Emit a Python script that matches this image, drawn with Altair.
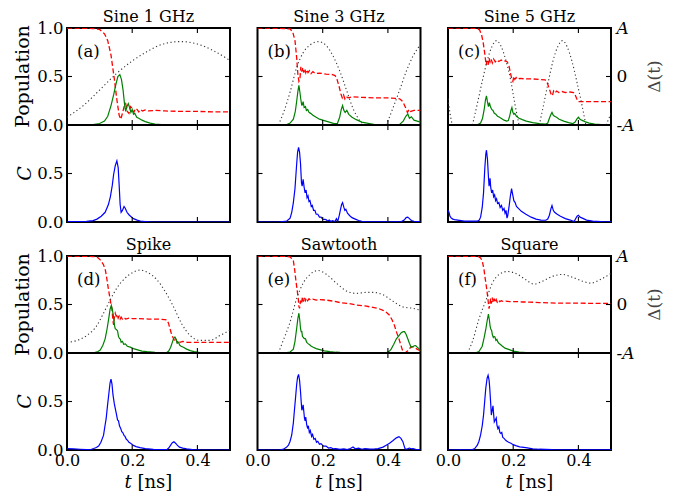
import altair as alt
import pandas as pd

FONT = "DejaVu Serif, Liberation Serif, Noto Serif, Times New Roman, serif"
W, H = 163, 194

TITLES = ["Sine 1 GHz", "Sine 3 GHz", "Sine 5 GHz", "Spike", "Sawtooth", "Square"]
LABELS = ["(a)", "(b)", "(c)", "(d)", "(e)", "(f)"]
X_LABEL_VALUES = [0.0, 0.2, 0.4]
X_TICKS = [0.2, 0.4]
POP_TICKS = [0.5]
C_TICKS = [0.5]
POP_LABEL_VALUES = [0.0, 0.5, 1.0]
C_LABEL_VALUES = [0.0, 0.5]
DELTA_LABEL_VALUES = [-1, 0, 1]

# ---------------- panel (a) Sine 1 GHz ----------------
A_RED = [(0, 1.0), (0.08, 0.995), (0.10, 0.985), (0.115, 0.94), (0.125, 0.87), (0.135, 0.72), (0.145, 0.48),
         (0.153, 0.26), (0.160, 0.10), (0.165, 0.06), (0.170, 0.12), (0.176, 0.20), (0.180, 0.22), (0.185, 0.14),
         (0.190, 0.12), (0.195, 0.19), (0.200, 0.17), (0.205, 0.13), (0.210, 0.17), (0.215, 0.16), (0.220, 0.135),
         (0.225, 0.16), (0.232, 0.145), (0.24, 0.155), (0.25, 0.145), (0.27, 0.15), (0.30, 0.145), (0.35, 0.14),
         (0.40, 0.14), (0.45, 0.135), (0.50, 0.135)]
A_GREEN = [(0, 0), (0.08, 0.003), (0.10, 0.015), (0.115, 0.04), (0.125, 0.09), (0.135, 0.20), (0.143, 0.31),
           (0.150, 0.42), (0.156, 0.50), (0.162, 0.52), (0.167, 0.47), (0.172, 0.36), (0.177, 0.20), (0.180, 0.14),
           (0.184, 0.19), (0.188, 0.22), (0.192, 0.18), (0.196, 0.13), (0.200, 0.16), (0.204, 0.11), (0.208, 0.12),
           (0.214, 0.08), (0.220, 0.07), (0.23, 0.05), (0.24, 0.035), (0.255, 0.02), (0.27, 0.01), (0.29, 0.003),
           (0.32, 0), (0.5, 0)]
A_DELTA = [[(0, -0.84), (0.05, -0.60), (0.10, -0.28), (0.15, 0.05), (0.20, 0.32), (0.25, 0.53), (0.30, 0.68),
            (0.35, 0.72), (0.40, 0.67), (0.45, 0.53), (0.50, 0.33)]]
A_BLUE = [(0, 0.005), (0.04, 0.004), (0.06, 0.006), (0.08, 0.015), (0.092, 0.03), (0.105, 0.06), (0.117, 0.10),
          (0.127, 0.18), (0.133, 0.26), (0.139, 0.38), (0.143, 0.49), (0.148, 0.58), (0.153, 0.63), (0.157, 0.56),
          (0.160, 0.38), (0.163, 0.18), (0.166, 0.10), (0.170, 0.12), (0.175, 0.16), (0.179, 0.14), (0.184, 0.10),
          (0.190, 0.075), (0.195, 0.06), (0.204, 0.035), (0.215, 0.02), (0.225, 0.01), (0.24, 0.004), (0.26, 0),
          (0.5, 0)]

# ---------------- panel (b) Sine 3 GHz ----------------
B_RED = [(0, 1.0), (0.08, 0.995), (0.10, 0.99), (0.108, 0.96), (0.115, 0.87), (0.120, 0.70), (0.124, 0.52),
         (0.127, 0.45), (0.130, 0.47), (0.133, 0.60), (0.136, 0.55), (0.139, 0.59), (0.142, 0.54), (0.145, 0.58),
         (0.148, 0.54), (0.151, 0.57), (0.155, 0.54), (0.159, 0.56), (0.164, 0.53), (0.170, 0.55), (0.178, 0.53),
         (0.19, 0.535), (0.21, 0.525), (0.23, 0.52), (0.238, 0.51), (0.244, 0.47), (0.250, 0.40), (0.256, 0.32),
         (0.260, 0.28), (0.264, 0.31), (0.268, 0.27), (0.272, 0.295), (0.278, 0.28), (0.29, 0.29), (0.32, 0.285),
         (0.36, 0.28), (0.40, 0.28), (0.425, 0.275), (0.436, 0.27), (0.446, 0.24), (0.454, 0.18), (0.460, 0.13),
         (0.465, 0.16), (0.470, 0.14), (0.48, 0.15), (0.50, 0.15)]
B_GREEN = [(0, 0), (0.09, 0.005), (0.10, 0.02), (0.11, 0.06), (0.116, 0.14), (0.120, 0.24), (0.124, 0.35),
           (0.127, 0.41), (0.130, 0.34), (0.133, 0.26), (0.136, 0.20), (0.140, 0.24), (0.143, 0.18), (0.147, 0.19),
           (0.150, 0.15), (0.154, 0.16), (0.158, 0.13), (0.163, 0.12), (0.170, 0.10), (0.18, 0.08), (0.19, 0.06),
           (0.205, 0.045), (0.22, 0.03), (0.235, 0.015), (0.245, 0.015), (0.252, 0.08), (0.257, 0.16), (0.261, 0.20),
           (0.265, 0.15), (0.269, 0.13), (0.274, 0.15), (0.280, 0.11), (0.29, 0.08), (0.303, 0.055), (0.32, 0.03),
           (0.335, 0.02), (0.36, 0.005), (0.40, 0), (0.436, 0.005), (0.447, 0.04), (0.455, 0.09), (0.461, 0.115),
           (0.466, 0.07), (0.472, 0.085), (0.48, 0.05), (0.49, 0.04), (0.50, 0.03)]
B_DELTA = [[(0.064, -1), (0.08, -0.74), (0.10, -0.32), (0.12, 0.18), (0.14, 0.49), (0.161, 0.65), (0.188, 0.72),
            (0.212, 0.63), (0.232, 0.42), (0.253, 0.10), (0.273, -0.28), (0.293, -0.66), (0.314, -0.91), (0.33, -1)],
           [(0.395, -1), (0.415, -0.66), (0.436, -0.28), (0.456, 0.10), (0.477, 0.42), (0.50, 0.66)]]
B_BLUE = [(0, 0), (0.07, 0.002), (0.09, 0.01), (0.100, 0.04), (0.105, 0.10), (0.110, 0.20), (0.115, 0.345),
          (0.120, 0.59), (0.123, 0.72), (0.126, 0.77), (0.129, 0.72), (0.132, 0.60), (0.135, 0.40), (0.137, 0.37),
          (0.140, 0.44), (0.143, 0.36), (0.146, 0.30), (0.149, 0.33), (0.152, 0.25), (0.155, 0.27), (0.158, 0.21),
          (0.161, 0.22), (0.165, 0.16), (0.168, 0.17), (0.172, 0.12), (0.176, 0.12), (0.180, 0.08), (0.185, 0.08),
          (0.19, 0.05), (0.195, 0.05), (0.20, 0.03), (0.21, 0.025), (0.215, 0.01), (0.22, 0.02), (0.225, 0.005),
          (0.23, 0.015), (0.238, 0.005), (0.242, 0.035), (0.246, 0.005), (0.251, 0.07), (0.255, 0.135),
          (0.258, 0.18), (0.261, 0.20), (0.265, 0.15), (0.268, 0.12), (0.271, 0.13), (0.276, 0.09), (0.283, 0.065),
          (0.29, 0.045), (0.30, 0.03), (0.31, 0.015), (0.32, 0.008), (0.334, 0.002), (0.44, 0.002), (0.450, 0.02),
          (0.456, 0.045), (0.461, 0.05), (0.466, 0.035), (0.472, 0.015), (0.48, 0.008), (0.50, 0.003)]

# ---------------- panel (c) Sine 5 GHz ----------------
C_RED = [(0, 1.0), (0.09, 0.995), (0.097, 0.98), (0.103, 0.93), (0.108, 0.85), (0.113, 0.73), (0.117, 0.62),
         (0.120, 0.66), (0.123, 0.62), (0.126, 0.69), (0.129, 0.65), (0.132, 0.68), (0.136, 0.64), (0.140, 0.68),
         (0.145, 0.65), (0.150, 0.67), (0.156, 0.655), (0.163, 0.67), (0.170, 0.655), (0.176, 0.66), (0.182, 0.65),
         (0.187, 0.61), (0.192, 0.53), (0.196, 0.47), (0.199, 0.45), (0.202, 0.50), (0.205, 0.47), (0.209, 0.49),
         (0.214, 0.47), (0.22, 0.48), (0.24, 0.475), (0.26, 0.475), (0.28, 0.47), (0.298, 0.465), (0.305, 0.43),
         (0.311, 0.37), (0.316, 0.32), (0.320, 0.30), (0.324, 0.35), (0.328, 0.33), (0.333, 0.35), (0.34, 0.335),
         (0.35, 0.345), (0.36, 0.335), (0.375, 0.34), (0.385, 0.335), (0.390, 0.31), (0.395, 0.27), (0.400, 0.24),
         (0.41, 0.24), (0.44, 0.24), (0.50, 0.24)]
C_GREEN = [(0, 0), (0.09, 0.003), (0.100, 0.02), (0.106, 0.07), (0.111, 0.16), (0.115, 0.26), (0.118, 0.30),
           (0.121, 0.24), (0.124, 0.19), (0.127, 0.23), (0.130, 0.19), (0.134, 0.16), (0.138, 0.15), (0.142, 0.12),
           (0.147, 0.11), (0.152, 0.09), (0.158, 0.08), (0.165, 0.065), (0.172, 0.05), (0.180, 0.04), (0.185, 0.045),
           (0.189, 0.09), (0.193, 0.15), (0.196, 0.18), (0.199, 0.13), (0.202, 0.11), (0.205, 0.12), (0.210, 0.09),
           (0.218, 0.07), (0.228, 0.055), (0.24, 0.04), (0.26, 0.025), (0.28, 0.015), (0.30, 0.01), (0.306, 0.02),
           (0.311, 0.07), (0.316, 0.11), (0.319, 0.13), (0.323, 0.10), (0.327, 0.09), (0.333, 0.08), (0.341, 0.06),
           (0.355, 0.04), (0.37, 0.025), (0.383, 0.015), (0.390, 0.03), (0.395, 0.06), (0.400, 0.08), (0.405, 0.06),
           (0.41, 0.05), (0.42, 0.035), (0.433, 0.02), (0.45, 0.01), (0.47, 0.005), (0.50, 0.003)]
C_DELTA = [[(0, -0.46), (0.006, -0.75), (0.013, -1)],
           [(0.075, -1), (0.09, -0.56), (0.105, -0.10), (0.12, 0.32), (0.135, 0.62), (0.149, 0.74), (0.163, 0.62),
            (0.178, 0.32), (0.193, -0.10), (0.205, -0.56), (0.218, -1)],
           [(0.28, -1), (0.294, -0.56), (0.308, -0.10), (0.322, 0.32), (0.337, 0.62), (0.351, 0.74), (0.365, 0.62),
            (0.38, 0.32), (0.395, -0.10), (0.41, -0.56), (0.423, -1)],
           [(0.485, -1), (0.50, -0.76)]]
C_BLUE = [(0, 0.12), (0.003, 0.10), (0.006, 0.06), (0.01, 0.04), (0.015, 0.03), (0.02, 0.025), (0.03, 0.02),
          (0.05, 0.01), (0.07, 0.008), (0.09, 0.008), (0.096, 0.02), (0.100, 0.05), (0.105, 0.15), (0.109, 0.30),
          (0.113, 0.56), (0.116, 0.70), (0.118, 0.74), (0.121, 0.65), (0.124, 0.47), (0.126, 0.37), (0.129, 0.45),
          (0.131, 0.36), (0.134, 0.30), (0.137, 0.33), (0.140, 0.26), (0.143, 0.28), (0.146, 0.22), (0.149, 0.24),
          (0.152, 0.19), (0.156, 0.20), (0.160, 0.15), (0.164, 0.17), (0.168, 0.12), (0.172, 0.14), (0.175, 0.09),
          (0.178, 0.12), (0.181, 0.04), (0.183, 0.06), (0.187, 0.15), (0.191, 0.26), (0.195, 0.345), (0.198, 0.29),
          (0.202, 0.22), (0.206, 0.20), (0.210, 0.16), (0.216, 0.14), (0.225, 0.11), (0.239, 0.08), (0.255, 0.05),
          (0.27, 0.03), (0.285, 0.02), (0.30, 0.018), (0.306, 0.03), (0.311, 0.07), (0.316, 0.14), (0.319, 0.17),
          (0.323, 0.12), (0.327, 0.10), (0.335, 0.08), (0.345, 0.06), (0.36, 0.035), (0.375, 0.02), (0.387, 0.005),
          (0.391, 0.03), (0.396, 0.06), (0.400, 0.07), (0.405, 0.05), (0.412, 0.04), (0.425, 0.02), (0.444, 0.01),
          (0.47, 0.004), (0.50, 0.002)]

# ---------------- panel (d) Spike ----------------
D_RED = [(0, 1.0), (0.08, 0.995), (0.092, 0.99), (0.102, 0.96), (0.112, 0.91), (0.118, 0.85), (0.122, 0.77),
         (0.126, 0.68), (0.130, 0.60), (0.134, 0.52), (0.138, 0.45), (0.141, 0.33), (0.143, 0.29), (0.145, 0.36),
         (0.148, 0.41), (0.151, 0.38), (0.154, 0.40), (0.157, 0.36), (0.160, 0.38), (0.163, 0.35), (0.166, 0.37),
         (0.170, 0.35), (0.175, 0.365), (0.18, 0.35), (0.19, 0.36), (0.20, 0.355), (0.22, 0.355), (0.25, 0.35),
         (0.28, 0.35), (0.30, 0.345), (0.306, 0.34), (0.311, 0.31), (0.316, 0.25), (0.321, 0.19), (0.327, 0.146),
         (0.331, 0.12), (0.334, 0.14), (0.338, 0.11), (0.342, 0.13), (0.347, 0.11), (0.355, 0.12), (0.37, 0.11),
         (0.40, 0.11), (0.45, 0.11), (0.50, 0.11)]
D_GREEN = [(0, 0), (0.082, 0.003), (0.095, 0.015), (0.102, 0.03), (0.110, 0.08), (0.117, 0.146), (0.123, 0.25),
           (0.128, 0.355), (0.132, 0.45), (0.136, 0.49), (0.139, 0.45), (0.143, 0.37), (0.146, 0.28), (0.148, 0.25),
           (0.152, 0.24), (0.155, 0.23), (0.158, 0.17), (0.161, 0.15), (0.164, 0.14), (0.166, 0.11), (0.170, 0.12),
           (0.174, 0.09), (0.179, 0.094), (0.185, 0.07), (0.194, 0.06), (0.204, 0.045), (0.214, 0.035), (0.23, 0.02),
           (0.245, 0.014), (0.27, 0.006), (0.306, 0.005), (0.312, 0.02), (0.318, 0.06), (0.323, 0.11), (0.327, 0.15),
           (0.331, 0.164), (0.335, 0.14), (0.338, 0.10), (0.342, 0.11), (0.346, 0.08), (0.350, 0.07), (0.357, 0.06),
           (0.367, 0.04), (0.378, 0.024), (0.39, 0.015), (0.408, 0.005), (0.45, 0.002), (0.50, 0)]
D_DELTA = [[(0, -0.78), (0.031, -0.74), (0.061, -0.64), (0.092, -0.43), (0.112, -0.18), (0.133, 0.10), (0.153, 0.34),
            (0.173, 0.51), (0.199, 0.65), (0.224, 0.71), (0.25, 0.65), (0.276, 0.51), (0.301, 0.27), (0.327, -0.05),
            (0.352, -0.40), (0.378, -0.64), (0.408, -0.74), (0.439, -0.74), (0.469, -0.64), (0.50, -0.53)]]
D_BLUE = [(0, 0.015), (0.02, 0.012), (0.04, 0.008), (0.061, 0.005), (0.075, 0.008), (0.082, 0.015), (0.09, 0.025),
          (0.097, 0.04), (0.104, 0.08), (0.112, 0.15), (0.117, 0.26), (0.120, 0.32), (0.124, 0.45), (0.128, 0.57),
          (0.132, 0.69), (0.135, 0.73), (0.138, 0.68), (0.141, 0.57), (0.145, 0.48), (0.148, 0.43), (0.151, 0.38),
          (0.155, 0.31), (0.158, 0.30), (0.161, 0.25), (0.165, 0.22), (0.168, 0.19), (0.171, 0.18), (0.175, 0.15),
          (0.178, 0.14), (0.182, 0.11), (0.186, 0.10), (0.190, 0.08), (0.195, 0.07), (0.199, 0.06), (0.205, 0.045),
          (0.212, 0.035), (0.224, 0.025), (0.24, 0.015), (0.265, 0.006), (0.29, 0.003), (0.306, 0.004),
          (0.312, 0.02), (0.318, 0.05), (0.323, 0.075), (0.328, 0.085), (0.333, 0.07), (0.338, 0.05), (0.345, 0.03),
          (0.355, 0.02), (0.367, 0.012), (0.385, 0.005), (0.408, 0.002), (0.50, 0)]

# ---------------- panel (e) Sawtooth ----------------
E_RED = [(0, 1.0), (0.09, 0.995), (0.10, 0.99), (0.106, 0.97), (0.110, 0.95), (0.114, 0.86), (0.118, 0.74),
         (0.122, 0.64), (0.125, 0.56), (0.127, 0.48), (0.129, 0.46), (0.132, 0.54), (0.135, 0.51), (0.138, 0.58),
         (0.141, 0.53), (0.144, 0.57), (0.147, 0.54), (0.150, 0.565), (0.154, 0.54), (0.158, 0.56), (0.163, 0.545),
         (0.17, 0.555), (0.18, 0.545), (0.19, 0.55), (0.212, 0.545), (0.232, 0.535), (0.253, 0.52), (0.28, 0.51),
         (0.303, 0.495), (0.33, 0.485), (0.354, 0.47), (0.37, 0.46), (0.385, 0.44), (0.395, 0.42), (0.405, 0.39),
         (0.413, 0.34), (0.420, 0.285), (0.427, 0.21), (0.434, 0.146), (0.440, 0.08), (0.444, 0.035), (0.448, 0.01),
         (0.451, 0.0), (0.456, 0.01), (0.461, 0.024), (0.466, 0.045), (0.471, 0.06), (0.477, 0.065), (0.482, 0.06),
         (0.487, 0.045), (0.492, 0.035), (0.50, 0.024)]
E_GREEN = [(0, 0), (0.09, 0.003), (0.10, 0.01), (0.11, 0.04), (0.115, 0.12), (0.120, 0.25), (0.124, 0.36),
           (0.127, 0.41), (0.130, 0.33), (0.132, 0.25), (0.134, 0.22), (0.136, 0.22), (0.138, 0.17), (0.140, 0.164),
           (0.143, 0.15), (0.147, 0.146), (0.151, 0.11), (0.156, 0.094), (0.160, 0.085), (0.165, 0.07), (0.171, 0.06),
           (0.18, 0.045), (0.191, 0.035), (0.205, 0.022), (0.222, 0.014), (0.24, 0.008), (0.253, 0.006), (0.30, 0.003),
           (0.395, 0.003), (0.405, 0.02), (0.41, 0.04), (0.418, 0.09), (0.426, 0.146), (0.434, 0.18), (0.441, 0.21),
           (0.447, 0.22), (0.451, 0.22), (0.456, 0.19), (0.461, 0.146), (0.466, 0.10), (0.471, 0.06), (0.476, 0.065),
           (0.481, 0.075), (0.485, 0.077), (0.49, 0.06), (0.495, 0.045), (0.50, 0.024)]
E_DELTA = [[(0.064, -1), (0.079, -0.74), (0.10, -0.36), (0.12, 0.12), (0.14, 0.44), (0.161, 0.62), (0.186, 0.70),
            (0.212, 0.62), (0.242, 0.44), (0.273, 0.28), (0.303, 0.23), (0.334, 0.25), (0.354, 0.25), (0.385, 0.20),
            (0.415, 0.07), (0.446, -0.05), (0.477, -0.08), (0.50, -0.12)]]
E_BLUE = [(0, 0), (0.07, 0.002), (0.08, 0.01), (0.088, 0.025), (0.095, 0.05), (0.100, 0.09), (0.105, 0.155),
          (0.110, 0.28), (0.113, 0.40), (0.117, 0.55), (0.120, 0.67), (0.123, 0.75), (0.126, 0.78), (0.129, 0.72),
          (0.132, 0.60), (0.134, 0.50), (0.136, 0.41), (0.138, 0.43), (0.140, 0.465), (0.142, 0.40), (0.144, 0.33),
          (0.146, 0.30), (0.148, 0.34), (0.151, 0.26), (0.154, 0.22), (0.156, 0.25), (0.159, 0.18), (0.162, 0.20),
          (0.166, 0.14), (0.169, 0.16), (0.173, 0.11), (0.177, 0.12), (0.181, 0.08), (0.185, 0.09), (0.19, 0.06),
          (0.195, 0.065), (0.202, 0.04), (0.21, 0.04), (0.218, 0.02), (0.225, 0.025), (0.232, 0.012), (0.24, 0.015),
          (0.253, 0.006), (0.265, 0.012), (0.275, 0.004), (0.285, 0.015), (0.293, 0.03), (0.30, 0.012), (0.31, 0.02),
          (0.32, 0.008), (0.33, 0.015), (0.345, 0.01), (0.36, 0.012), (0.37, 0.015), (0.385, 0.03), (0.395, 0.05),
          (0.405, 0.07), (0.415, 0.095), (0.426, 0.125), (0.434, 0.138), (0.440, 0.12), (0.446, 0.086), (0.450, 0.04),
          (0.453, 0.01), (0.46, 0.012), (0.466, 0.02), (0.472, 0.012), (0.477, 0.015), (0.485, 0.008), (0.50, 0.003)]

# ---------------- panel (f) Square ----------------
F_RED = [(0, 1.0), (0.09, 0.995), (0.095, 0.99), (0.100, 0.98), (0.105, 0.95), (0.110, 0.87), (0.114, 0.77),
         (0.118, 0.68), (0.121, 0.60), (0.124, 0.51), (0.126, 0.456), (0.128, 0.50), (0.131, 0.56), (0.133, 0.51),
         (0.136, 0.57), (0.139, 0.52), (0.142, 0.56), (0.145, 0.52), (0.148, 0.55), (0.151, 0.525), (0.155, 0.545),
         (0.159, 0.53), (0.164, 0.54), (0.17, 0.53), (0.177, 0.535), (0.19, 0.53), (0.21, 0.53), (0.228, 0.526),
         (0.25, 0.525), (0.28, 0.52), (0.33, 0.515), (0.382, 0.515), (0.44, 0.512), (0.50, 0.51)]
F_GREEN = [(0, 0), (0.085, 0.003), (0.095, 0.015), (0.105, 0.07), (0.111, 0.16), (0.116, 0.245), (0.120, 0.33),
           (0.124, 0.40), (0.127, 0.34), (0.129, 0.28), (0.131, 0.25), (0.134, 0.23), (0.136, 0.19), (0.139, 0.16),
           (0.141, 0.17), (0.144, 0.165), (0.147, 0.13), (0.150, 0.14), (0.152, 0.12), (0.156, 0.10), (0.160, 0.09),
           (0.167, 0.07), (0.175, 0.05), (0.188, 0.035), (0.20, 0.02), (0.218, 0.01), (0.24, 0.005), (0.28, 0.002),
           (0.50, 0)]
F_DELTA = [[(0.06, -1), (0.075, -0.76), (0.095, -0.30), (0.116, 0.08), (0.136, 0.44), (0.157, 0.62), (0.182, 0.68),
            (0.208, 0.64), (0.239, 0.51), (0.264, 0.42), (0.29, 0.48), (0.32, 0.58), (0.351, 0.62), (0.382, 0.56),
            (0.413, 0.48), (0.438, 0.44), (0.469, 0.52), (0.50, 0.64)]]
F_BLUE = [(0, 0), (0.075, 0.005), (0.082, 0.015), (0.09, 0.05), (0.095, 0.09), (0.100, 0.155), (0.105, 0.25),
          (0.109, 0.36), (0.113, 0.52), (0.116, 0.64), (0.120, 0.74), (0.123, 0.77), (0.126, 0.72), (0.128, 0.64),
          (0.131, 0.48), (0.133, 0.36), (0.136, 0.42), (0.138, 0.455), (0.140, 0.37), (0.142, 0.29), (0.145, 0.31),
          (0.148, 0.33), (0.150, 0.26), (0.153, 0.22), (0.156, 0.24), (0.159, 0.18), (0.162, 0.17), (0.165, 0.18),
          (0.168, 0.13), (0.172, 0.12), (0.177, 0.10), (0.181, 0.09), (0.186, 0.08), (0.193, 0.07), (0.2, 0.055),
          (0.208, 0.045), (0.22, 0.032), (0.239, 0.024), (0.26, 0.012), (0.28, 0.008), (0.32, 0.004), (0.50, 0.002)]

RED = [A_RED, B_RED, C_RED, D_RED, E_RED, F_RED]
GREEN = [A_GREEN, B_GREEN, C_GREEN, D_GREEN, E_GREEN, F_GREEN]
DELTA = [A_DELTA, B_DELTA, C_DELTA, D_DELTA, E_DELTA, F_DELTA]
BLUE = [A_BLUE, B_BLUE, C_BLUE, D_BLUE, E_BLUE, F_BLUE]


def pts(pairs):
    return pd.DataFrame(pairs, columns=["t", "v"])


def segs(seglist):
    rows = [(t, v, k) for k, s in enumerate(seglist) for t, v in s]
    return pd.DataFrame(rows, columns=["t", "v", "seg"])


ONE = alt.Data(values=[{"k": 0}])


def text(txt, x, y, size, **kw):
    opts = dict(text=txt, font=FONT, fontSize=size, color="black", align="center", baseline="middle")
    opts.update(kw)
    return alt.Chart(ONE).mark_text(**opts).encode(x=alt.value(x), y=alt.value(y))


def panel(i):
    bottom = i >= 3
    first = i % 3 == 0
    last = i % 3 == 2
    xs = alt.Scale(domain=[0, 0.5], nice=False, zero=False)
    ps = alt.Scale(domain=[-1, 1], nice=False, zero=False)   # population in upper half
    cs = alt.Scale(domain=[0, 2], nice=False, zero=False)    # C in lower half
    ds = alt.Scale(domain=[-3, 1], nice=False, zero=False)   # Delta/A in upper half

    xax = alt.Axis(values=X_LABEL_VALUES, format=".1f", labels=bottom, ticks=False, domain=False, grid=False,
                   title="", labelFlush=False, labelPadding=2, labelFontSize=16, labelFont=FONT,
                   labelColor="black", labelOverlap=False)
    X = alt.X("t:Q", scale=xs, axis=xax)

    if first:
        yvals = [c - 1 for c in C_LABEL_VALUES] + POP_LABEL_VALUES
        yax = alt.Axis(values=yvals, ticks=False, domain=False, grid=False, title="",
                       labelExpr="datum.value < -0.001 ? format(datum.value + 1, '.1f') : format(datum.value, '.1f')",
                       labelFontSize=16.5, labelFont=FONT, labelColor="black", labelPadding=4, labelOverlap=False)
        Yred = alt.Y("v:Q", scale=ps, axis=yax)
    else:
        Yred = alt.Y("v:Q", scale=ps, axis=None)

    if last:
        dax = alt.Axis(orient="right", values=DELTA_LABEL_VALUES, ticks=False, domain=False, grid=False, title="",
                       labelExpr="datum.value > 0.5 ? 'A' : (datum.value < -0.5 ? '-A' : '0')",
                       labelFontSize=17, labelFont=FONT, labelColor="black", labelPadding=5, labelOverlap=False,
                       labelFontStyle={"condition": {"test": "datum.value == 0", "value": "normal"},
                                       "value": "italic"})
        Yd = alt.Y("v:Q", scale=ds, axis=dax)
    else:
        Yd = alt.Y("v:Q", scale=ds, axis=None)

    layers = []
    layers.append(alt.Chart(pts(RED[i])).mark_line(color="#ff0000", strokeWidth=1.3, strokeDash=[5, 2.5], clip=True)
                  .encode(x=X, y=Yred))
    layers.append(alt.Chart(segs(DELTA[i])).mark_line(color="#333333", strokeWidth=1.1, strokeDash=[1.2, 2.6],
                                                      interpolate="monotone", clip=True)
                  .encode(x=X, y=Yd, detail="seg:N"))
    layers.append(alt.Chart(pts(GREEN[i])).mark_line(color="#008000", strokeWidth=1.2, clip=True)
                  .encode(x=X, y=alt.Y("v:Q", scale=ps, axis=None)))
    layers.append(alt.Chart(pts(BLUE[i])).mark_line(color="#0000ff", strokeWidth=1.2, clip=True)
                  .encode(x=X, y=alt.Y("v:Q", scale=cs, axis=None)))
    # divider between the two sub-panels
    layers.append(alt.Chart(ONE).mark_rule(color="black", strokeWidth=2)
                  .encode(x=alt.value(0), x2=alt.value(W), y=alt.value(H / 2)))
    # inward ticks
    tick = dict(color="black", strokeWidth=1.1)
    for y0, y1 in [(0, 5), (H / 2 - 5, H / 2 + 5), (H - 5, H)]:
        layers.append(alt.Chart(pd.DataFrame({"t": X_TICKS})).mark_rule(**tick)
                      .encode(x=X, y=alt.value(y0), y2=alt.value(y1)))
    for vals, sc in [(POP_TICKS, ps), (C_TICKS, cs)]:
        for x0, x1 in [(0, 5), (W - 5, W)]:
            layers.append(alt.Chart(pd.DataFrame({"v": vals})).mark_rule(**tick)
                          .encode(y=alt.Y("v:Q", scale=sc, axis=None), x=alt.value(x0), x2=alt.value(x1)))
    # panel title and label
    layers.append(text(TITLES[i], W / 2, -6, 16, baseline="alphabetic"))
    layers.append(text(LABELS[i], 10, 24, 16.5, align="left"))
    if first:
        layers.append(text("Population", -44, H / 4, 19, angle=270))
        layers.append(text("C", -42, 3 * H / 4, 19, angle=270, fontStyle="italic"))
    if last:
        layers.append(text("Δ(t)", W + 44, H / 4, 17, angle=270, color="#444444"))
    if bottom:
        layers.append(text("t", W / 2 - 24, H + 38, 18, align="left", baseline="alphabetic",
                           fontStyle="italic"))
        layers.append(text("[ns]", W / 2 - 11, H + 38, 18, align="left", baseline="alphabetic"))

    return (alt.layer(*layers)
            .resolve_scale(y="independent")
            .properties(width=W, height=H))


chart = (alt.concat(*[panel(i) for i in range(6)], columns=3, spacing={"row": 34, "column": 27.5}, bounds="flush")
         .properties(padding={"left": 5, "top": 0, "right": 5, "bottom": 0})
         .configure_view(stroke="black", strokeWidth=2))

chart.save("out.html", embed_options={"renderer": "svg", "actions": False})
